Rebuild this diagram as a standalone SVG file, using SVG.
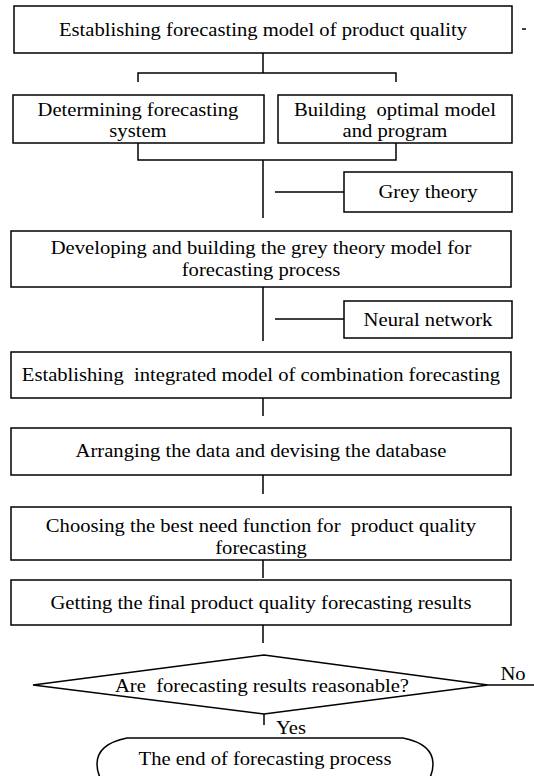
<svg xmlns="http://www.w3.org/2000/svg" width="534" height="776" viewBox="0 0 534 776">
<style>
.box{fill:#fff;stroke:#000;stroke-width:1.5}
.ln{fill:none;stroke:#000;stroke-width:1.5}
text{font-family:"Liberation Serif","Times New Roman",serif;font-size:19px;fill:#000;text-anchor:middle;white-space:pre;transform-box:fill-box;transform-origin:center;transform:scaleX(1.085)}
</style>
<rect width="534" height="776" fill="#fff"/>
<g id="connectors">
<path class="ln" d="M263,53 V73 M138,82 V73 H396 V82"/>
<path class="ln" d="M138,143 V160 H396 V143 M263,160 V218"/>
<path class="ln" d="M275,192 H344"/>
<path class="ln" d="M263,287 V341 M275,319 H344"/>
<path class="ln" d="M263,398 V416 M263,475 V494 M263,560 V578 M263,625 V643"/>
<path class="ln" d="M488,685 H534 M264,714 V725"/>
<path class="ln" d="M522,29 H526"/>
</g>
<g id="n1"><rect class="box" x="14" y="6" width="498" height="47"/><text x="263" y="36">Establishing forecasting model of product quality</text></g>
<g id="n2"><rect class="box" x="13" y="95" width="251" height="48"/><text x="138" y="116">Determining forecasting</text><text x="138" y="137">system</text></g>
<g id="n3"><rect class="box" x="278" y="95" width="234" height="48"/><text x="395" y="116">Building  optimal model</text><text x="395" y="137">and program</text></g>
<g id="n4"><rect class="box" x="344" y="172" width="168" height="40"/><text x="428" y="198">Grey theory</text></g>
<g id="n5"><rect class="box" x="11" y="231" width="500" height="56"/><text x="261" y="254">Developing and building the grey theory model for</text><text x="261" y="276">forecasting process</text></g>
<g id="n6"><rect class="box" x="344" y="301" width="168" height="37"/><text x="428" y="326">Neural network</text></g>
<g id="n7"><rect class="box" x="11" y="352" width="500" height="46"/><text x="261" y="381">Establishing  integrated model of combination forecasting</text></g>
<g id="n8"><rect class="box" x="11" y="428" width="500" height="47"/><text x="261" y="457">Arranging the data and devising the database</text></g>
<g id="n9"><rect class="box" x="11" y="507" width="500" height="53"/><text x="261" y="532">Choosing the best need function for  product quality</text><text x="261" y="554">forecasting</text></g>
<g id="n10"><rect class="box" x="11" y="580" width="500" height="45"/><text x="261" y="609">Getting the final product quality forecasting results</text></g>
<g id="n11"><polygon class="box" points="264,655 488,685 264,714 33,685"/><text x="262" y="692">Are  forecasting results reasonable?</text></g>
<text x="513" y="680">No</text>
<text x="291" y="734">Yes</text>
<g id="n12"><path class="box" d="M127,738 H403 Q433,744 433,764 Q433,782 416,790 H114 Q97,782 97,764 Q97,744 127,738 Z"/><text x="265" y="765">The end of forecasting process</text></g>
</svg>
